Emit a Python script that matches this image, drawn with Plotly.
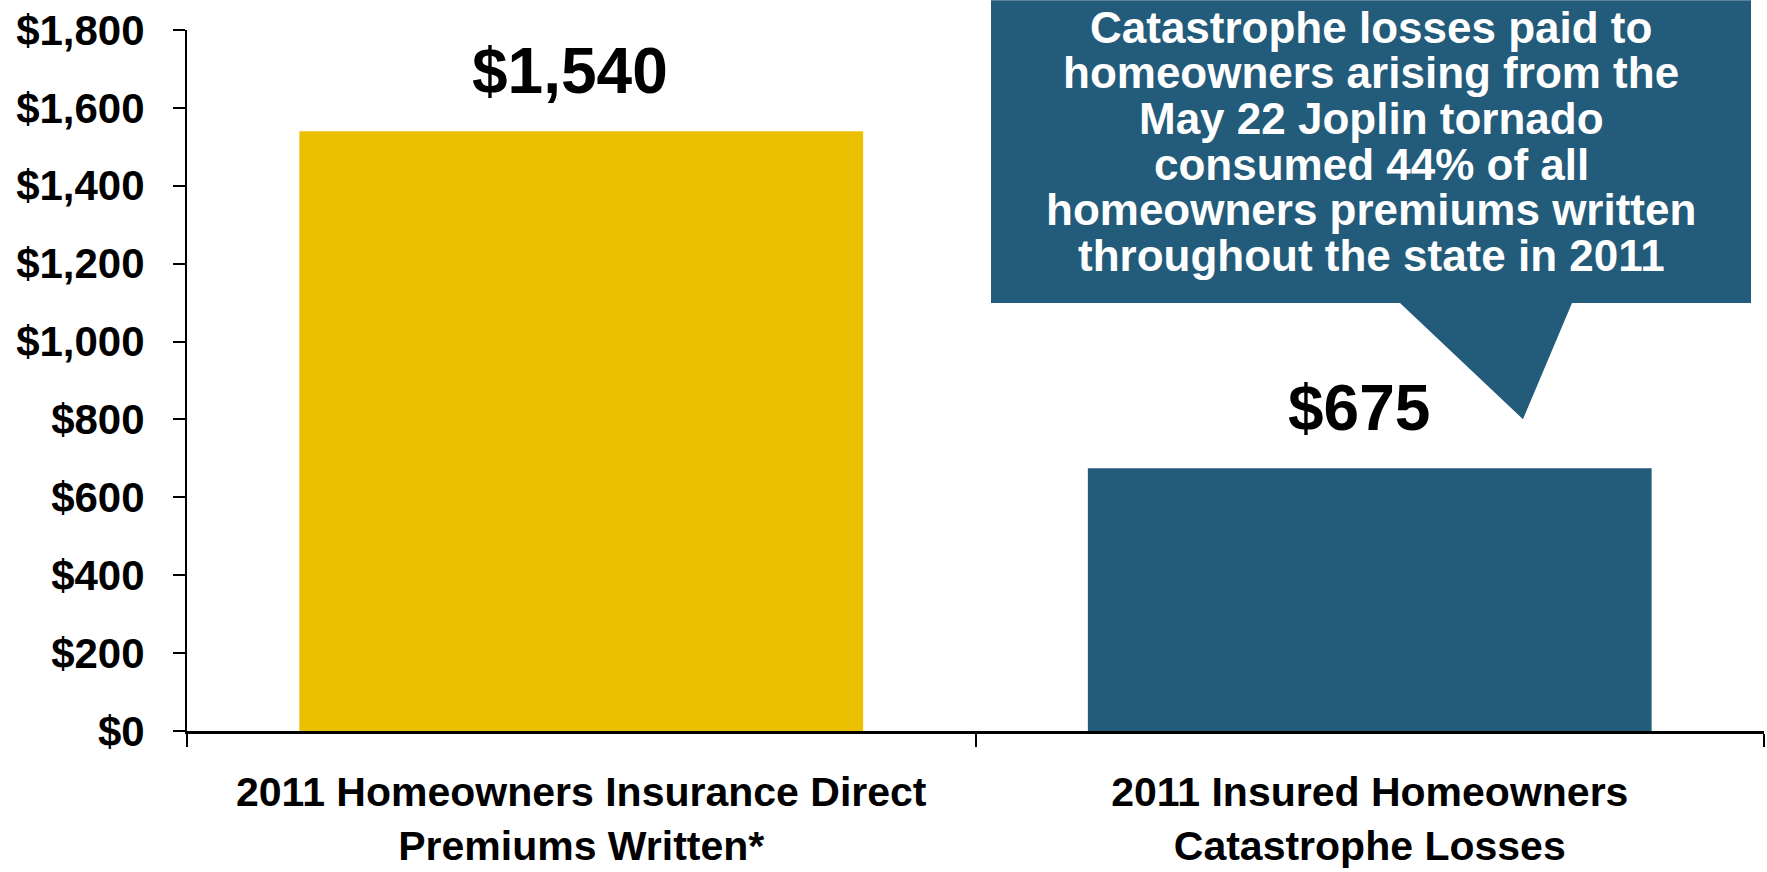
import plotly.graph_objects as go

# ---- data ----
categories = ["2011 Homeowners Insurance Direct<br>Premiums Written*",
              "2011 Insured Homeowners<br>Catastrophe Losses"]
values = [1540, 675]
bar_colors = ["#EBC000", "#235B7A"]
y_tick_vals = [0, 200, 400, 600, 800, 1000, 1200, 1400, 1600, 1800]
y_tick_text = ["$" + format(v, ",") for v in y_tick_vals]
callout_lines = ["Catastrophe losses paid to",
                 "homeowners arising from the",
                 "May 22 Joplin tornado",
                 "consumed 44% of all",
                 "homeowners premiums written",
                 "throughout the state in 2011"]

W, H = 1767, 872
L, R, T, B = 187, 3, 30, 136
FONT = "Liberation Sans, Arial, sans-serif"

fig = go.Figure()
fig.add_trace(go.Bar(x=categories, y=values, marker=dict(color=bar_colors, line=dict(width=0)),
                     width=0.715, hoverinfo="skip"))

# value labels above bars
for c, v in zip(categories, values):
    fig.add_annotation(x=c, y=v, xref="x", yref="y", text="<b>$" + format(v, ",") + "</b>",
                       showarrow=False, yanchor="middle", yshift=60, xshift=-11,
                       font=dict(family=FONT, size=64, color="black"))

# callout box (pixel -> paper conversion)
pw, ph = W - L - R, H - T - B
def px(x):
    return (x - L) / pw
def py(y):
    return (H - B - y) / ph

path = ("M {x0},{y0} L {x1},{y0} L {x1},{y1} L {xr},{y1} L {xt},{yt} L {xl},{y1} L {x0},{y1} Z"
        .format(x0=px(991), x1=px(1751), y0=py(0), y1=py(305), xr=px(1572), xl=px(1400),
                xt=px(1523), yt=py(422)))
fig.add_shape(type="path", path=path, xref="paper", yref="paper",
              fillcolor="#235B7A", line=dict(width=0), layer="above")

line_y0, line_step = 27, 46
for i, t in enumerate(callout_lines):
    fig.add_annotation(x=px(1371), y=py(line_y0 + i * line_step), xref="paper", yref="paper",
                       text="<b>" + t + "</b>", showarrow=False, xanchor="center", yanchor="middle",
                       font=dict(family=FONT, size=44, color="white"))

fig.update_layout(
    width=W, height=H,
    margin=dict(l=L, r=R, t=T, b=B, pad=0),
    plot_bgcolor="white", paper_bgcolor="white",
    showlegend=False, bargap=0.285,
    font=dict(family=FONT, color="black"),
)
fig.update_xaxes(showline=True, linecolor="black", linewidth=3, ticks="outside", ticklen=13,
                 tickwidth=1.5, tickcolor="black", tickson="boundaries", ticklabelstandoff=23,
                 tickfont=dict(family=FONT, size=41, color="black"),
                 tickprefix="<b>", ticksuffix="</b>", showgrid=False, zeroline=False)
fig.update_yaxes(range=[0, 1800], tickvals=y_tick_vals, ticktext=["<b>" + t + "</b>" for t in y_tick_text],
                 showline=True, linecolor="black", linewidth=2, ticks="outside", ticklen=12,
                 tickwidth=1.5, tickcolor="black", ticklabelstandoff=20,
                 tickfont=dict(family=FONT, size=42, color="black"), showgrid=False, zeroline=False)

fig.write_html("out.html", config={"displayModeBar": False},
               post_script="document.body.style.margin='0';document.body.style.overflow='hidden';")
